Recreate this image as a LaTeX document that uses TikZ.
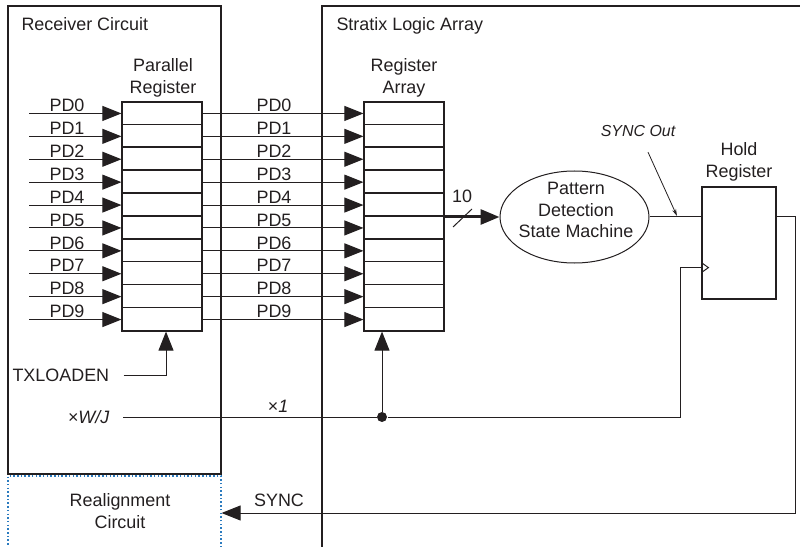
\documentclass[tikz,border=0pt]{standalone}
\usepackage{fontspec}
\setmainfont{Liberation Sans}
\usepackage{tikz}
\usetikzlibrary{
  arrows.meta,
  shapes.geometric,
  positioning,
  calc
}
\definecolor{stxLine}{HTML}{231F20}
\definecolor{stxDot}{HTML}{2B7BBF}

\begin{document}
\begin{tikzpicture}[x=1bp, y=-1bp, font=\fontsize{18}{22}\selectfont,
  color=stxLine, line width=1bp,
  regbox/.style={draw, line width=1.2bp, minimum width=80bp, minimum height=229bp, inner sep=0pt},
  sig/.style={line width=1bp, -{Triangle[length=19bp,width=15bp]}},
  lbl/.style={inner sep=0pt}]
  \useasboundingbox (0,0) rectangle (800,547);

  % regions
  \draw[line width=1.2bp] (8,6) rectangle (221,474);
  \draw[line width=1.2bp] (805,6) -- (322,6) -- (322,560);
  \node[draw=stxDot, line width=1.2bp, dash pattern=on 1.5bp off 2.2bp, minimum width=213bp, minimum height=84bp, inner sep=0pt] (realign) at (114.5,518) {};
  \node[lbl, anchor=base west] (rxname) at (21,31) {Receiver Circuit};
  \node[lbl, anchor=base west] (stxname) at (336,31) {Stratix Logic Array};
  \node[lbl, align=center] (realigntxt) at (120,511) {Realignment\\Circuit};

  % registers
  \node[regbox] (preg) at (162,216.5) {};
  \node[regbox] (rarr) at (404,216.5) {};
  \node[lbl, align=center] (pregtxt) at (163,77.5) {Parallel\\Register};
  \node[lbl, align=center] (rarrtxt) at (404,77.5) {Register\\Array};
  \foreach \i in {1,...,9}{
    \draw[line width=1.5bp] ($(preg.north west)+(0,22.9*\i)$) -- ++(80,0);
    \draw[line width=1.5bp] ($(rarr.north west)+(0,22.9*\i)$) -- ++(80,0);
  }
  \foreach \i in {0,...,9}{
    \pgfmathsetmacro{\ry}{102+22.9*(\i+0.5)}
    \coordinate (in\i) at (29,\ry);
    \draw[sig] (in\i) -- (preg.west |- in\i);
    \draw[sig] (preg.east |- in\i) -- (rarr.west |- in\i);
    \node[lbl] at (67,\ry-8) {PD\i};
    \node[lbl] at (274,\ry-8) {PD\i};
  }

  % pattern detection
  \node[draw, ellipse, minimum width=149bp, minimum height=92bp, inner sep=0pt] (pde) at (574.5,217) {};
  \node[lbl, align=center] (pdetxt) at (576,210) {Pattern\\Detection\\State Machine};
  \draw[line width=3bp, -{Triangle[length=19bp,width=15bp]}] (rarr.east |- pde.west) -- (pde.west);
  \draw (453,227) -- (472,209);
  \node[lbl] (buswidth) at (462,196) {10};

  % hold register
  \node[draw, line width=1.2bp, minimum width=74bp, minimum height=112bp, inner sep=0pt] (hold) at (739,243) {};
  \node[lbl, align=center] (holdtxt) at (739,162) {Hold\\Register};
  \coordinate (clk) at ($(hold.south west)+(0,-32)$);
  \draw ($(clk)+(0,-5)$) -- ($(clk)+(7,0)$) -- ($(clk)+(0,5)$);
  \draw (pde.east) -- (pde.east -| hold.west);
  \node[lbl, font=\fontsize{16}{18}\selectfont\itshape] (syncout) at (638,131) {SYNC Out};
  \coordinate (syncpt) at (677,216);
  \draw[line width=0.8bp, -{Stealth[length=7bp,width=4bp]}] ($(syncout.south)+(10,15)$) -- (syncpt);

  % SYNC feedback
  \coordinate (syncturn) at (795,513);
  \draw[sig] (hold.east |- pde.east) -| (syncturn) -- (syncturn -| realign.east);
  \node[lbl] (synctxt) at (279,500) {SYNC};

  % load and clock
  \node[lbl, anchor=west] (txload) at (12,375) {TXLOADEN};
  \draw[sig] ([xshift=14bp]txload.east) -| ([xshift=4bp]preg.south);
  \node[lbl, anchor=east] (wj) at (110,417) {×\textit{W/J}};
  \node[circle, fill, inner sep=0pt, minimum size=10bp] (tap) at (382,417) {};
  \node[lbl] (x1) at (278,406) {×\textit{1}};
  \draw ([xshift=13bp]wj.east) -- (tap);
  \draw[sig] (tap) -- (tap |- rarr.south);
  \coordinate (clkturn) at (680,417);
  \draw (tap) -- (clkturn) |- (clk);
\end{tikzpicture}
\end{document}
